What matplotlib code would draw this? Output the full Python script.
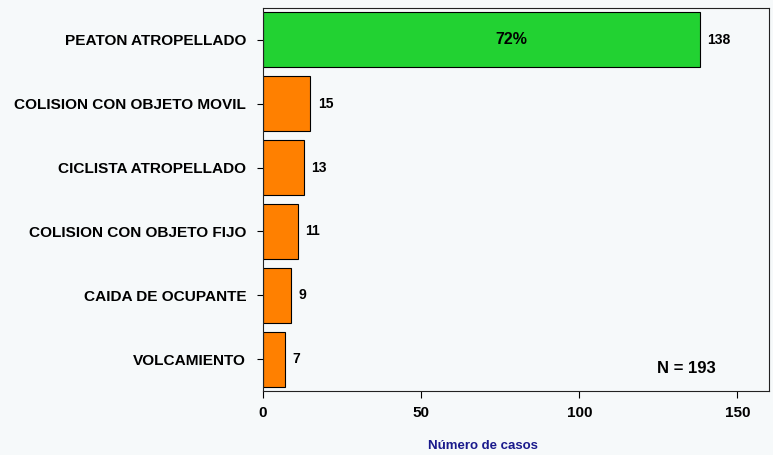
import numpy as np
import matplotlib
matplotlib.use('Agg')
import matplotlib.pyplot as plt

plt.rcParams['font.family'] = ['Liberation Sans', 'DejaVu Sans']

categorias = ['VOLCAMIENTO', 'CAIDA DE OCUPANTE', 'COLISION CON OBJETO FIJO',
              'CICLISTA ATROPELLADO', 'COLISION CON OBJETO MOVIL', 'PEATON ATROPELLADO']
casos = [7, 9, 11, 13, 15, 138]
colores = ['#FF8000', '#FF8000', '#FF8000', '#FF8000', '#FF8000', '#22D232']
total = 193
pct_top = '72%'

bg = '#F6F9FA'
fig = plt.figure(figsize=(7.73, 4.55), dpi=100, facecolor=bg)
ax = fig.add_axes([0.340, 0.1407, 0.655, 0.8417])
ax.set_facecolor(bg)

y = np.arange(len(categorias))
ax.barh(y, casos, height=0.86, color=colores, edgecolor='black', linewidth=0.8)

for yi, v in zip(y, casos):
    ax.annotate(str(v), xy=(v, yi), xytext=(5.5, 0), textcoords='offset points',
                ha='left', va='center', fontsize=10, fontweight='bold')

ax.text(casos[-1] * 0.57, y[-1], pct_top, ha='center', va='center',
        fontsize=11.5, fontweight='bold')

ax.text(0.836, 0.06, 'N = %d' % total, transform=ax.transAxes, ha='center',
        va='center', fontsize=12, fontweight='bold')

ax.set_xlim(0, 160)
ax.set_ylim(-0.5, 5.5)
ax.set_xticks([0, 50, 100, 150])
ax.set_yticks(y)
ax.set_yticklabels(categorias, fontsize=11.1, fontweight='bold')
for lab in ax.get_xticklabels():
    lab.set_fontsize(11)
    lab.set_fontweight('bold')
ax.tick_params(axis='x', length=5, width=0.8, pad=6)
ax.tick_params(axis='y', length=4.5, width=0.8, pad=7.5)
for s in ax.spines.values():
    s.set_linewidth(0.8)
    s.set_color('#222222')

fig.text(0.625, 0.02, 'Número de casos', ha='center', va='center',
         fontsize=9.5, fontweight='bold', color='#1A1A8C')

fig.savefig('out.png', dpi=100, facecolor=bg)
